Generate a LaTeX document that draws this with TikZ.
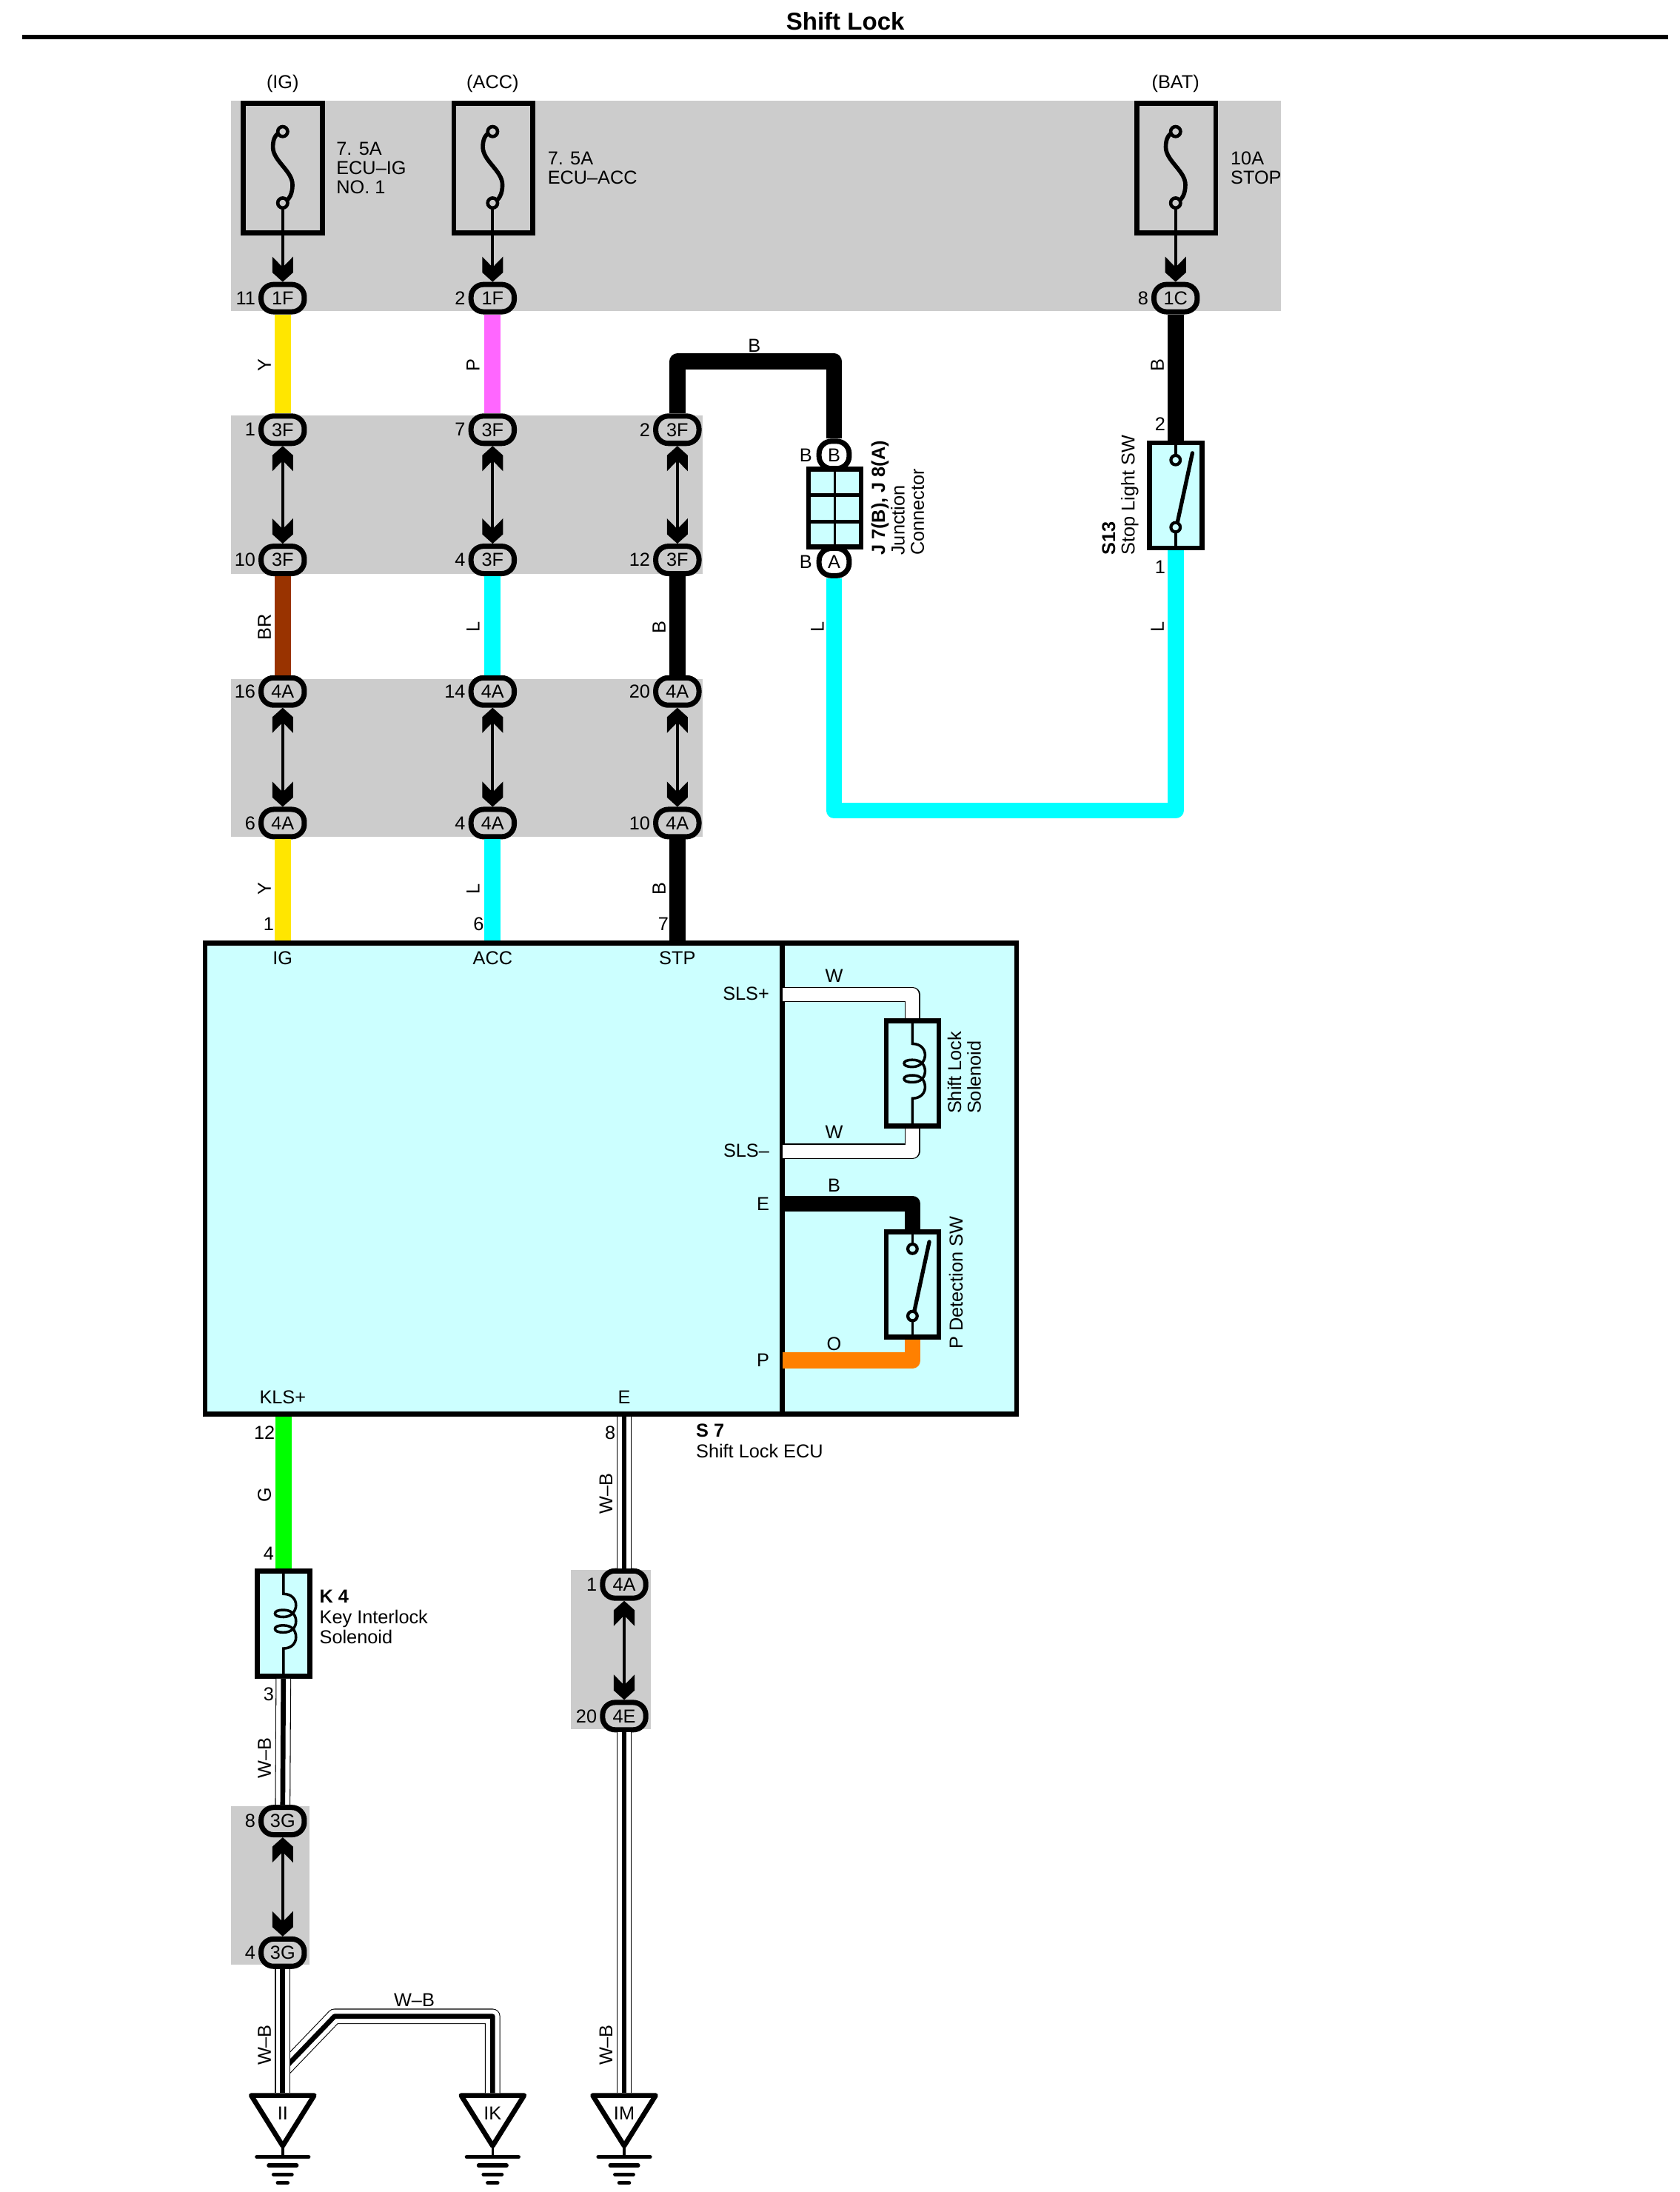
\documentclass[tikz,border=0pt]{standalone}
\usepackage{fontspec}
\setmainfont{Liberation Sans}
\usetikzlibrary{positioning}
\definecolor{panelgray}{HTML}{CCCCCC}
\definecolor{boxfill}{HTML}{CCFFFF}
\definecolor{wireY}{HTML}{FFE600}
\definecolor{wireP}{HTML}{FF66FF}
\definecolor{wireBR}{HTML}{993300}
\definecolor{wireL}{HTML}{00FFFF}
\definecolor{wireG}{HTML}{00FF00}
\definecolor{wireO}{HTML}{FF8000}
\pgfdeclarearrow{
  name=Chev,
  setup code={\pgfarrowssettipend{0pt}\pgfarrowssetlineend{-5pt}\pgfarrowssetbackend{-9.7pt}\pgfarrowssetvisualbackend{-5pt}},
  drawing code={
    \pgfpathmoveto{\pgfpoint{0pt}{0pt}}
    \pgfpathlineto{\pgfpoint{-3.6pt}{4pt}}
    \pgfpathlineto{\pgfpoint{-9.7pt}{4pt}}
    \pgfpathlineto{\pgfpoint{-5.6pt}{0pt}}
    \pgfpathlineto{\pgfpoint{-9.7pt}{-4pt}}
    \pgfpathlineto{\pgfpoint{-3.6pt}{-4pt}}
    \pgfpathclose
    \pgfusepathqfill},
  defaults={}
}
\tikzset{
  txt/.style={font=\fontsize{7.2}{7.5}\selectfont,inner sep=0pt},
  pinnum/.style={txt},
  wirelbl/.style={txt,rotate=90},
  sidelbl/.style={txt,rotate=90,anchor=west,align=left},
  panel/.style={fill=panelgray},
  conn/.style={txt,draw,fill=panelgray,line width=2pt,rounded corners=4.8pt,minimum width=16.6pt,minimum height=10.5pt},
  jconn/.style={txt,draw,fill=white,line width=2pt,rounded corners=4.8pt,minimum width=11.6pt,minimum height=10.5pt},
  fusebox/.style={draw,line width=1.9pt,inner sep=0pt,minimum width=30.4pt,minimum height=49.8pt},
  comp/.style={draw,fill=boxfill,line width=1.9pt,inner sep=0pt,minimum width=20.2pt,minimum height=40.4pt},
  lead/.style={line width=1.2pt,>=Chev},
  thin lead/.style={line width=1pt},
  wire/.style={line width=6.2pt,line join=round},
  wb/.style={line width=5.9pt,line join=round,black,postaction={draw,white,line width=5.3pt},postaction={draw,black,line width=1.9pt}},
  ww/.style={line width=5.9pt,line join=round,black,postaction={draw,white,line width=5.1pt}},
  fuse/.pic={
    \draw[line width=1.6pt] (0,0) .. controls (-5,1) and (-7,5) .. (-7,11) .. controls (-7,21) and (7,28) .. (7,38) .. controls (7,44) and (5,49) .. (0,51);
    \draw[line width=1.3pt,fill=panelgray] (0,0) circle[radius=1.9pt];
    \draw[line width=1.3pt,fill=panelgray] (0,51) circle[radius=1.9pt];
    \coordinate (-low) at (0,54.5);
  },
  contact/.pic={
    \draw[thin lead] (0,0) -- (0,12) (0,62) -- (0,76);
    \draw[line width=1.5pt,line cap=round] (1,60) -- (12,9);
    \draw[line width=1.2pt,fill=boxfill] (0,14) circle[radius=1.8pt];
    \draw[line width=1.2pt,fill=boxfill] (0,62) circle[radius=1.8pt];
  },
  coil/.pic={
    \draw[thin lead] (0,0) -- (0,18)
      .. controls (6,18) and (9,22) .. (9,26) .. controls (9,30) and (6,34.5) .. (0,34.5)
      .. controls (-4,34.5) and (-6,33.5) .. (-6,32) .. controls (-6,30.5) and (-4,29.5) .. (0,29.5)
      .. controls (6,29.5) and (9,33) .. (9,37.5) .. controls (9,42) and (6,45.5) .. (0,45.5)
      .. controls (-4,45.5) and (-6,44.5) .. (-6,43) .. controls (-6,41.5) and (-4,40.5) .. (0,40.5)
      .. controls (6,40.5) and (9,44) .. (9,49) .. controls (9,53) and (6,57) .. (0,57) -- (0,76);
  },
  earth/.pic={
    \draw[line width=1.9pt,line join=round,fill=white] (-22.5,0) -- (22.5,0) -- (0,36) -- cycle;
    \node[txt] (-lbl) at (0,13) {#1};
    \draw[thin lead] (0,36) -- (0,44);
    \draw[line width=1.5pt,line cap=round] (-18.5,44) -- (18.5,44);
    \draw[line width=1.5pt,line cap=round] (-10,50) -- (10,50);
    \draw[line width=1.5pt,line cap=round] (-6.5,56.5) -- (6.5,56.5);
    \draw[line width=1.5pt,line cap=round] (-3.5,62.5) -- (3.5,62.5);
    \coordinate (-top) at (0,-1.7);
  },
}

\begin{document}
\begin{tikzpicture}[x=0.0189cm,y=-0.0189cm]
\useasboundingbox (0,0) rectangle (1200,1566);
\node[txt,font=\fontsize{9.4}{11}\selectfont\bfseries] (title) at (604,15) {Shift Lock};
\draw[line width=1.7pt] (16,26.5) -- (1192,26.5);

% gray panels
\fill[panel] (165,72) rectangle (915,222);
\fill[panel] (165,297) rectangle (502,410);
\fill[panel] (165,485) rectangle (502,598);
\fill[panel] (408,1121.5) rectangle (465,1235.5);
\fill[panel] (165,1290.5) rectangle (221,1403.5);

% fuses
\node[fusebox] (figbox) at (202,120) {};
\node[fusebox] (faccbox) at (352.5,120) {};
\node[fusebox] (fbatbox) at (840.5,120) {};
\pic (fig) at (202,94) {fuse};
\pic (facc) at (352,94) {fuse};
\pic (fbat) at (840,94) {fuse};
\node[txt] (ig) at (202,59.5) {(IG)};
\node[txt] (acc) at (352,59.5) {(ACC)};
\node[txt] (bat) at (840,59.5) {(BAT)};
\node[txt,anchor=west,align=left] (figtxt) at (240,120) {7. 5A\\ECU–IG\\NO. 1};
\node[txt,anchor=west,align=left] (facctxt) at (391,120) {7. 5A\\ECU–ACC};
\node[txt,anchor=west,align=left] (fbattxt) at (879,120) {10A\\STOP};

% connectors
\node[conn] (a1) at (202,213) {1F};
\node[pinnum,left=1pt of a1] (na1) {11};
\node[conn] (a2) at (202,307) {3F};
\node[pinnum,left=1pt of a2] (na2) {1};
\node[conn] (a3) at (202,400) {3F};
\node[pinnum,left=1pt of a3] (na3) {10};
\node[conn] (a4) at (202,494) {4A};
\node[pinnum,left=1pt of a4] (na4) {16};
\node[conn] (a5) at (202,588) {4A};
\node[pinnum,left=1pt of a5] (na5) {6};
\node[conn] (b1) at (352,213) {1F};
\node[pinnum,left=1pt of b1] (nb1) {2};
\node[conn] (b2) at (352,307) {3F};
\node[pinnum,left=1pt of b2] (nb2) {7};
\node[conn] (b3) at (352,400) {3F};
\node[pinnum,left=1pt of b3] (nb3) {4};
\node[conn] (b4) at (352,494) {4A};
\node[pinnum,left=1pt of b4] (nb4) {14};
\node[conn] (b5) at (352,588) {4A};
\node[pinnum,left=1pt of b5] (nb5) {4};
\node[conn] (c2) at (484,307) {3F};
\node[pinnum,left=1pt of c2] (nc2) {2};
\node[conn] (c3) at (484,400) {3F};
\node[pinnum,left=1pt of c3] (nc3) {12};
\node[conn] (c4) at (484,494) {4A};
\node[pinnum,left=1pt of c4] (nc4) {20};
\node[conn] (c5) at (484,588) {4A};
\node[pinnum,left=1pt of c5] (nc5) {10};
\node[conn] (d1) at (840,213) {1C};
\node[pinnum,left=1pt of d1] (nd1) {8};
\node[conn] (e1) at (446,1132) {4A};
\node[pinnum,left=1pt of e1] (ne1) {1};
\node[conn] (e2) at (446,1226) {4E};
\node[pinnum,left=1pt of e2] (ne2) {20};
\node[conn] (k1) at (202,1301) {3G};
\node[pinnum,left=1pt of k1] (nk1) {8};
\node[conn] (k2) at (202,1395) {3G};
\node[pinnum,left=1pt of k2] (nk2) {4};

% leads inside the panels
\draw[lead,->] (fig-low) -- (a1.north);
\draw[lead,->] (facc-low) -- (b1.north);
\draw[lead,->] (fbat-low) -- (d1.north);
\draw[lead,<->] (a2.south) -- (a3.north);
\draw[lead,<->] (a4.south) -- (a5.north);
\draw[lead,<->] (b2.south) -- (b3.north);
\draw[lead,<->] (b4.south) -- (b5.north);
\draw[lead,<->] (c2.south) -- (c3.north);
\draw[lead,<->] (c4.south) -- (c5.north);
\draw[lead,<->] (e1.south) -- (e2.north);
\draw[lead,<->] (k1.south) -- (k2.north);

% junction connector
\node[comp,minimum height=29.8pt] (jbox) at (596.5,363) {};
\draw[thin lead] (jbox.north) -- (jbox.south);
\draw[line width=1.4pt] (jbox.west |- 0,353.5) -- (jbox.east |- 0,353.5);
\draw[line width=1.4pt] (jbox.west |- 0,372.5) -- (jbox.east |- 0,372.5);
\node[jconn] (jb) at (596,325) {B};
\node[jconn] (ja) at (596,401.5) {A};
\node[pinnum,left=1.5pt of jb] (njb) {B};
\node[pinnum,left=1.5pt of ja] (nja) {B};
\node[sidelbl] (jlbl) at (641.5,397) {\bfseries J 7(B), J 8(A)\\Junction\\Connector};

% stop light switch
\node[comp] (s13) at (840,354) {};
\pic (s13c) at (s13.north) {contact};
\node[pinnum] (ns2) at (829,303) {2};
\node[pinnum] (ns1) at (829,405) {1};
\node[sidelbl] (s13lbl) at (800.5,397) {\bfseries S13\\Stop Light SW};

% ECU
\node[draw,fill=boxfill,line width=1.8pt,inner sep=0pt,minimum width=312pt,minimum height=181pt] (ecu) at (436.5,842) {};
\coordinate (divt) at (559,673);
\coordinate (divb) at (559,1011);
\draw[line width=1.8pt] (divt) -- (divb);
\node[txt] (pig) at (202,684.5) {IG};
\node[txt] (pacc) at (352,684.5) {ACC};
\node[txt] (pstp) at (484,684.5) {STP};
\node[txt,anchor=east] (pslsp) at (550,710) {SLS+};
\node[txt,anchor=east] (pslsm) at (550,822) {SLS–};
\node[txt,anchor=east] (pe) at (550,860) {E};
\node[txt,anchor=east] (pp) at (550,972) {P};
\node[txt] (pkls) at (202,998) {KLS+};
\node[txt] (pgnd) at (446,998) {E};
\node[pinnum] (n1) at (192,660) {1};
\node[pinnum] (n6) at (342,660) {6};
\node[pinnum] (n7) at (474,660) {7};
\node[pinnum] (n12) at (189,1023.5) {12};
\node[pinnum] (n8) at (436,1023.5) {8};
\node[txt,anchor=west,align=left] (ecutxt) at (497,1029.5) {\bfseries S 7\\[0.6pt]Shift Lock ECU};

% shift lock solenoid and P detection switch
\node[comp] (sol) at (652,767) {};
\pic (solc) at (sol.north) {coil};
\node[comp] (psw) at (652,917.5) {};
\pic (pswc) at (psw.north) {contact};
\node[sidelbl] (sollbl) at (689,796) {Shift Lock\\Solenoid};
\node[sidelbl] (pswlbl) at (683,964) {P Detection SW};
\coordinate (slsp) at (559,710.5);
\coordinate (slsm) at (559,822.5);
\coordinate (ep) at (559,860);
\coordinate (po) at (559,972);
\draw[ww] (slsp) -| (sol.north);
\draw[ww] (slsm) -| (sol.south);
\draw[wire,black] (ep) -| (psw.north);
\draw[wire,wireO] (po) -| (psw.south);
\node[txt] (lw1) at (596,697) {W};
\node[txt] (lw2) at (596,809) {W};
\node[txt] (lb3) at (596,847) {B};
\node[txt] (lo) at (596,960) {O};

% key interlock solenoid
\node[comp] (k4) at (202.5,1160) {};
\pic (k4c) at (k4.north) {coil};
\node[pinnum] (nk4) at (192,1110) {4};
\node[pinnum] (nk3) at (192,1210.5) {3};
\node[txt,anchor=west,align=left] (k4lbl) at (228,1155) {\bfseries K 4\\[0.6pt]Key Interlock\\Solenoid};

% grounds
\pic (gii) at (202,1497) {earth=II};
\pic (gik) at (352,1497) {earth=IK};
\pic (gim) at (446,1497) {earth=IM};
\coordinate (tee) at (202,1479);
\coordinate (bendl) at (239,1440.5);

% wires
\draw[wire,wireY] (a1.south) -- (a2.north);
\draw[wire,wireP] (b1.south) -- (b2.north);
\draw[wire,black] (c2.north) -- ++(0,-37) -| (jb.north);
\draw[wire,black] (d1.south) -- (s13.north);
\draw[wire,wireBR] (a3.south) -- (a4.north);
\draw[wire,wireL] (b3.south) -- (b4.north);
\draw[wire,black] (c3.south) -- (c4.north);
\draw[wire,wireL] (ja.south) |- (840,579) -- (s13.south);
\draw[wire,wireY] (a5.south) -- (a5.south |- ecu.north);
\draw[wire,wireL] (b5.south) -- (b5.south |- ecu.north);
\draw[wire,black] (c5.south) -- (c5.south |- ecu.north);
\draw[wire,wireG] (k4.north |- ecu.south) -- (k4.north);
\draw[wb] (k4.south) -- (k1.north);
\draw[wb] (e1.north |- ecu.south) -- (e1.north);
\draw[wb] (e2.south) -- (gim-top);
\draw[wb] (tee) -- (bendl) -| (gik-top);
\draw[wb] (k2.south) -- (gii-top);

% wire labels
\node[wirelbl] (ly1) at (189,261) {Y};
\node[wirelbl] (lp) at (338,261) {P};
\node[wirelbl] (lb1) at (827,261) {B};
\node[txt] (lb2) at (539,247) {B};
\node[wirelbl] (lbr) at (189,448) {BR};
\node[wirelbl] (ll1) at (338,448) {L};
\node[wirelbl] (lb4) at (471,448) {B};
\node[wirelbl] (ll2) at (584,448) {L};
\node[wirelbl] (ll3) at (827,448) {L};
\node[wirelbl] (ly2) at (189,635) {Y};
\node[wirelbl] (ll4) at (338,635) {L};
\node[wirelbl] (lb5) at (471,635) {B};
\node[wirelbl] (lg) at (189,1068) {G};
\node[wirelbl] (lwb1) at (433,1067) {W–B};
\node[wirelbl] (lwb2) at (189,1256) {W–B};
\node[wirelbl] (lwb3) at (189,1461) {W–B};
\node[wirelbl] (lwb4) at (433,1461) {W–B};
\node[txt] (lwb5) at (296,1429) {W–B};
\end{tikzpicture}
\end{document}
